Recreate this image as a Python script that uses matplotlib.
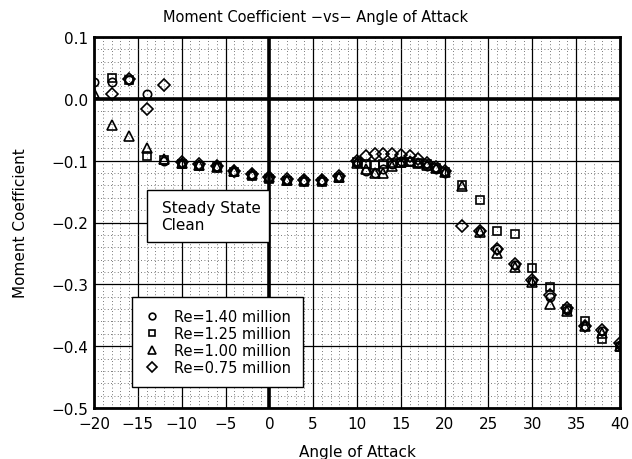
import numpy as np
import matplotlib
matplotlib.use("Agg")
import matplotlib.pyplot as plt
from matplotlib.ticker import MultipleLocator, FuncFormatter
from matplotlib.patches import Rectangle

# Re = 1.40 million (circles)
alpha_140 = [-20, -18, -16, -14, -12, -10, -8, -6, -4, -2, 0, 2, 4, 6, 8,
             10, 11, 12, 13, 14, 15, 16, 17, 18, 19, 20,
             24, 26, 28, 30, 32, 34, 36, 38, 40]
cm_140 = [0.028, 0.027, 0.031, 0.008, -0.100, -0.104, -0.107, -0.111, -0.118,
          -0.123, -0.128, -0.132, -0.133, -0.133, -0.127,
          -0.104, -0.116, -0.120, -0.114, -0.105, -0.101, -0.101, -0.104,
          -0.108, -0.113, -0.120,
          -0.214, -0.243, -0.268, -0.295, -0.320, -0.341, -0.367, -0.376, -0.398]

# Re = 1.25 million (squares)
alpha_125 = [-18, -16, -14, -12, -10, -8, -6, -4, -2, 0, 2, 4, 6, 8,
             10, 11, 12, 13, 14, 15, 16, 17, 18, 19, 20,
             22, 24, 26, 28, 30, 32, 34, 36, 38, 40]
cm_125 = [0.033, 0.030, -0.092, -0.099, -0.105, -0.108, -0.111, -0.119, -0.124,
          -0.129, -0.133, -0.134, -0.134, -0.128,
          -0.102, -0.106, -0.107, -0.106, -0.104, -0.103, -0.102, -0.104,
          -0.106, -0.112, -0.118,
          -0.140, -0.164, -0.213, -0.219, -0.273, -0.305, -0.340, -0.359, -0.388, -0.401]

# Re = 1.00 million (triangles)
alpha_100 = [-20, -18, -16, -14, -12, -10, -8, -6, -4, -2, 0, 2, 4, 6, 8,
             10, 11, 12, 13, 14, 15, 16, 17, 18, 19, 20,
             22, 24, 26, 28, 30, 32, 34, 36, 38, 40]
cm_100 = [0.010, -0.043, -0.060, -0.080, -0.097, -0.103, -0.107, -0.110, -0.117,
          -0.122, -0.127, -0.131, -0.132, -0.132, -0.126,
          -0.104, -0.113, -0.120, -0.120, -0.108, -0.102, -0.101, -0.103,
          -0.107, -0.112, -0.119,
          -0.141, -0.216, -0.249, -0.272, -0.297, -0.331, -0.343, -0.368, -0.378, -0.400]

# Re = 0.75 million (diamonds)
alpha_075 = [-18, -16, -14, -12, -10, -8, -6, -4, -2, 0, 2, 4, 6, 8,
             10, 11, 12, 13, 14, 15, 16, 17, 18, 19, 20,
             22, 24, 26, 28, 30, 32, 34, 36, 38, 40]
cm_075 = [0.008, 0.032, -0.016, 0.022, -0.102, -0.106, -0.109, -0.116, -0.121,
          -0.126, -0.130, -0.131, -0.131, -0.125,
          -0.101, -0.092, -0.089, -0.089, -0.090, -0.091, -0.093, -0.098,
          -0.103, -0.110, -0.116,
          -0.205, -0.214, -0.243, -0.267, -0.293, -0.318, -0.339, -0.368, -0.374, -0.395]

series = [
    (alpha_140, cm_140, "o", 6.0, "Re=1.40 million"),
    (alpha_125, cm_125, "s", 6.0, "Re=1.25 million"),
    (alpha_100, cm_100, "^", 6.5, "Re=1.00 million"),
    (alpha_075, cm_075, "D", 6.0, "Re=0.75 million"),
]

fig = plt.figure(figsize=(6.32, 4.60), dpi=100)
ax = fig.add_axes([94 / 632, 51 / 460, 526 / 632, 371 / 460])

for a, c, m, ms, lab in series:
    ax.plot(a, c, linestyle="none", marker=m, markersize=ms, mfc="none",
            mec="k", mew=1.2, label=lab, zorder=5)

ax.set_xlim(-20, 40)
ax.set_ylim(-0.5, 0.1)
ax.xaxis.set_major_locator(MultipleLocator(5))
ax.xaxis.set_minor_locator(MultipleLocator(1))
ax.yaxis.set_major_locator(MultipleLocator(0.1))
ax.yaxis.set_minor_locator(MultipleLocator(0.02))

ax.xaxis.set_major_formatter(FuncFormatter(lambda v, p: f"{round(v):d}".replace("-", "\u2212")))
ax.yaxis.set_major_formatter(FuncFormatter(lambda v, p: f"{round(v, 2) + 0.0:.1f}".replace("-", "\u2212")))

ax.grid(which="major", color="k", lw=0.9, zorder=1)
ax.grid(which="minor", color="0.3", lw=0.6, linestyle=(0, (1, 3)), zorder=1)
ax.set_axisbelow(True)
ax.axhline(0, color="k", lw=2.6, zorder=2)
ax.axvline(0, color="k", lw=2.6, zorder=2)

for s in ax.spines.values():
    s.set_linewidth(2)
ax.tick_params(which="both", length=0, labelsize=11)
ax.tick_params(axis="x", pad=6)
ax.tick_params(axis="y", pad=4)

ax.set_xlabel("Angle of Attack", fontsize=11, labelpad=9)
ax.set_ylabel("Moment Coefficient", fontsize=11, labelpad=17)
fig.suptitle("Moment Coefficient \u2212vs\u2212 Angle of Attack", fontsize=10.5, y=0.978)

# annotation box
ax.add_patch(Rectangle((-13.9, -0.231), 13.9, 0.084, facecolor="white",
                       edgecolor="k", lw=1, zorder=3))
ax.text(-12.3, -0.189, "Steady State\nClean", fontsize=11, va="center",
        ha="left", linespacing=1.15, zorder=4)

leg = ax.legend(loc="upper left", bbox_to_anchor=(0.072, 0.299), borderaxespad=0,
                fontsize=10.5, frameon=True, fancybox=False, edgecolor="k",
                framealpha=1, markerscale=0.8, handlelength=1.2, handletextpad=0.9,
                labelspacing=0.15, borderpad=0.8)
leg.get_frame().set_linewidth(1)
leg.set_zorder(6)

fig.savefig("out.png", dpi=100)
